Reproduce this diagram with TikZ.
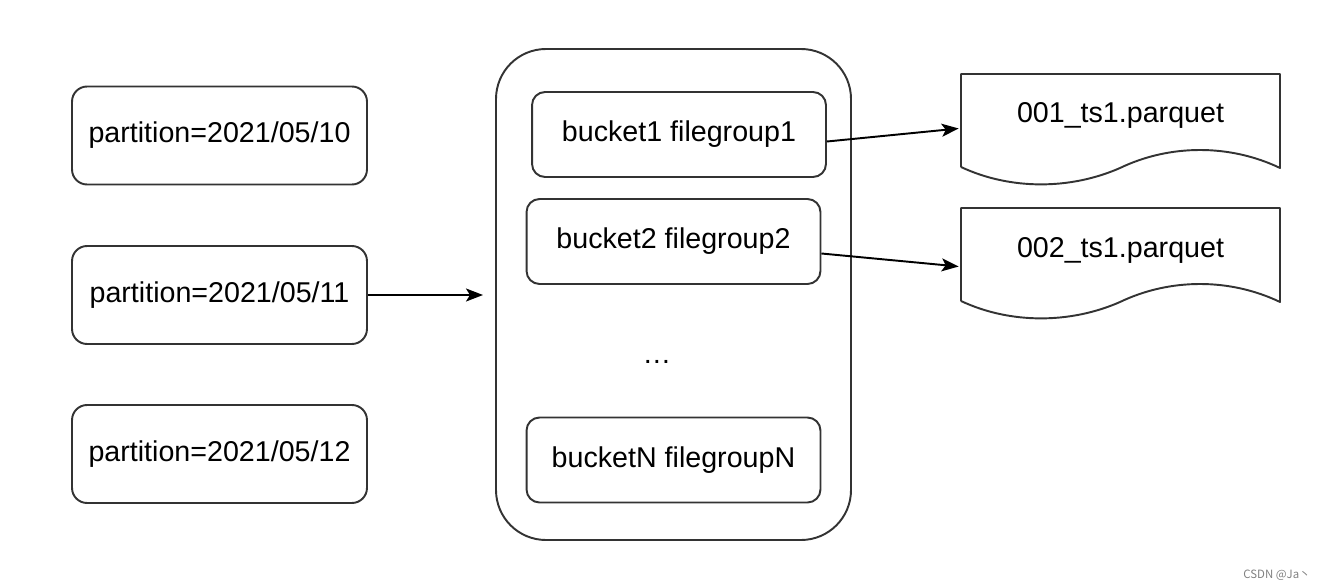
\documentclass[tikz,border=0pt]{standalone}
\usepackage{fontspec}
\setmainfont{Liberation Sans}
\newfontfamily\cjkfont{Noto Sans CJK SC}
\usetikzlibrary{arrows.meta,calc}
\definecolor{linegray}{HTML}{333333}
\tikzset{
  partbox/.style={draw=linegray, line width=1.1pt, rounded corners=0.3cm, minimum width=5.9cm, minimum height=1.96cm, inner sep=0pt},
  bucketbox/.style={draw=linegray, line width=1.1pt, rounded corners=0.26cm, minimum width=5.88cm, minimum height=1.7cm, inner sep=0pt},
  docnode/.style={minimum width=6.38cm, minimum height=1.86cm, inner sep=0pt},
  flow/.style={draw=black, line width=1.1pt, -{Stealth[length=0.34cm, width=0.26cm, inset=0.08cm]}},
}
\begin{document}
\begin{tikzpicture}[x=0.02cm, y=-0.02cm, font=\fontsize{16.3}{20}\selectfont, line join=round]
  \useasboundingbox (0,0) rectangle (1318,588);
  % partitions
  \node[partbox] (p10) at (219.5,135.5) {partition=2021/05/10};
  \node[partbox] (p11) at (219.5,295) {partition=2021/05/11};
  \node[partbox] (p12) at (219.5,454) {partition=2021/05/12};
  % file groups
  \draw[linegray, line width=1.1pt, rounded corners=1cm] (496,49) rectangle (851,540);
  \coordinate (grp) at (483,295);
  \node[bucketbox] (b1) at (679,134.5) {bucket1 filegroup1};
  \node[bucketbox] (b2) at (673.5,241.5) {bucket2 filegroup2};
  \node (dots) at (657,362) {\dots};
  \node[bucketbox] (bN) at (673.5,460) {bucketN filegroupN};
  % parquet files
  \foreach \f/\y in {1/74, 2/208}{
    \node[docnode] (doc\f) at (1120.5,\y+46.5) {};
    \draw[linegray, line width=1.1pt] (961,\y+93) -- (961,\y) -- (1280,\y) -- (1280,\y+94)
      .. controls (1230,\y+70) and (1170,\y+70) .. (1120,\y+94)
      .. controls (1070,\y+116) and (1010,\y+116) .. (961,\y+93);
  }
  \node (t1) at ($(doc1)+(0,-5)$) {001\_ts1.parquet};
  \node (t2) at ($(doc2)+(0,-4)$) {002\_ts1.parquet};
  % arrows
  \draw[flow] (p11.east) -- (grp);
  \draw[flow] ($(b1.east)+(0,7)$) -- ($(doc1.west)+(-2,8)$);
  \draw[flow] ($(b2.east)+(0,12)$) -- ($(doc2.west)+(-2,12)$);
  \node[text=gray, font=\cjkfont\fontsize{6.5}{8}\selectfont, anchor=east, inner sep=0pt] (csdn) at (1311,575) {CSDN @Ja丶};
\end{tikzpicture}
\end{document}
